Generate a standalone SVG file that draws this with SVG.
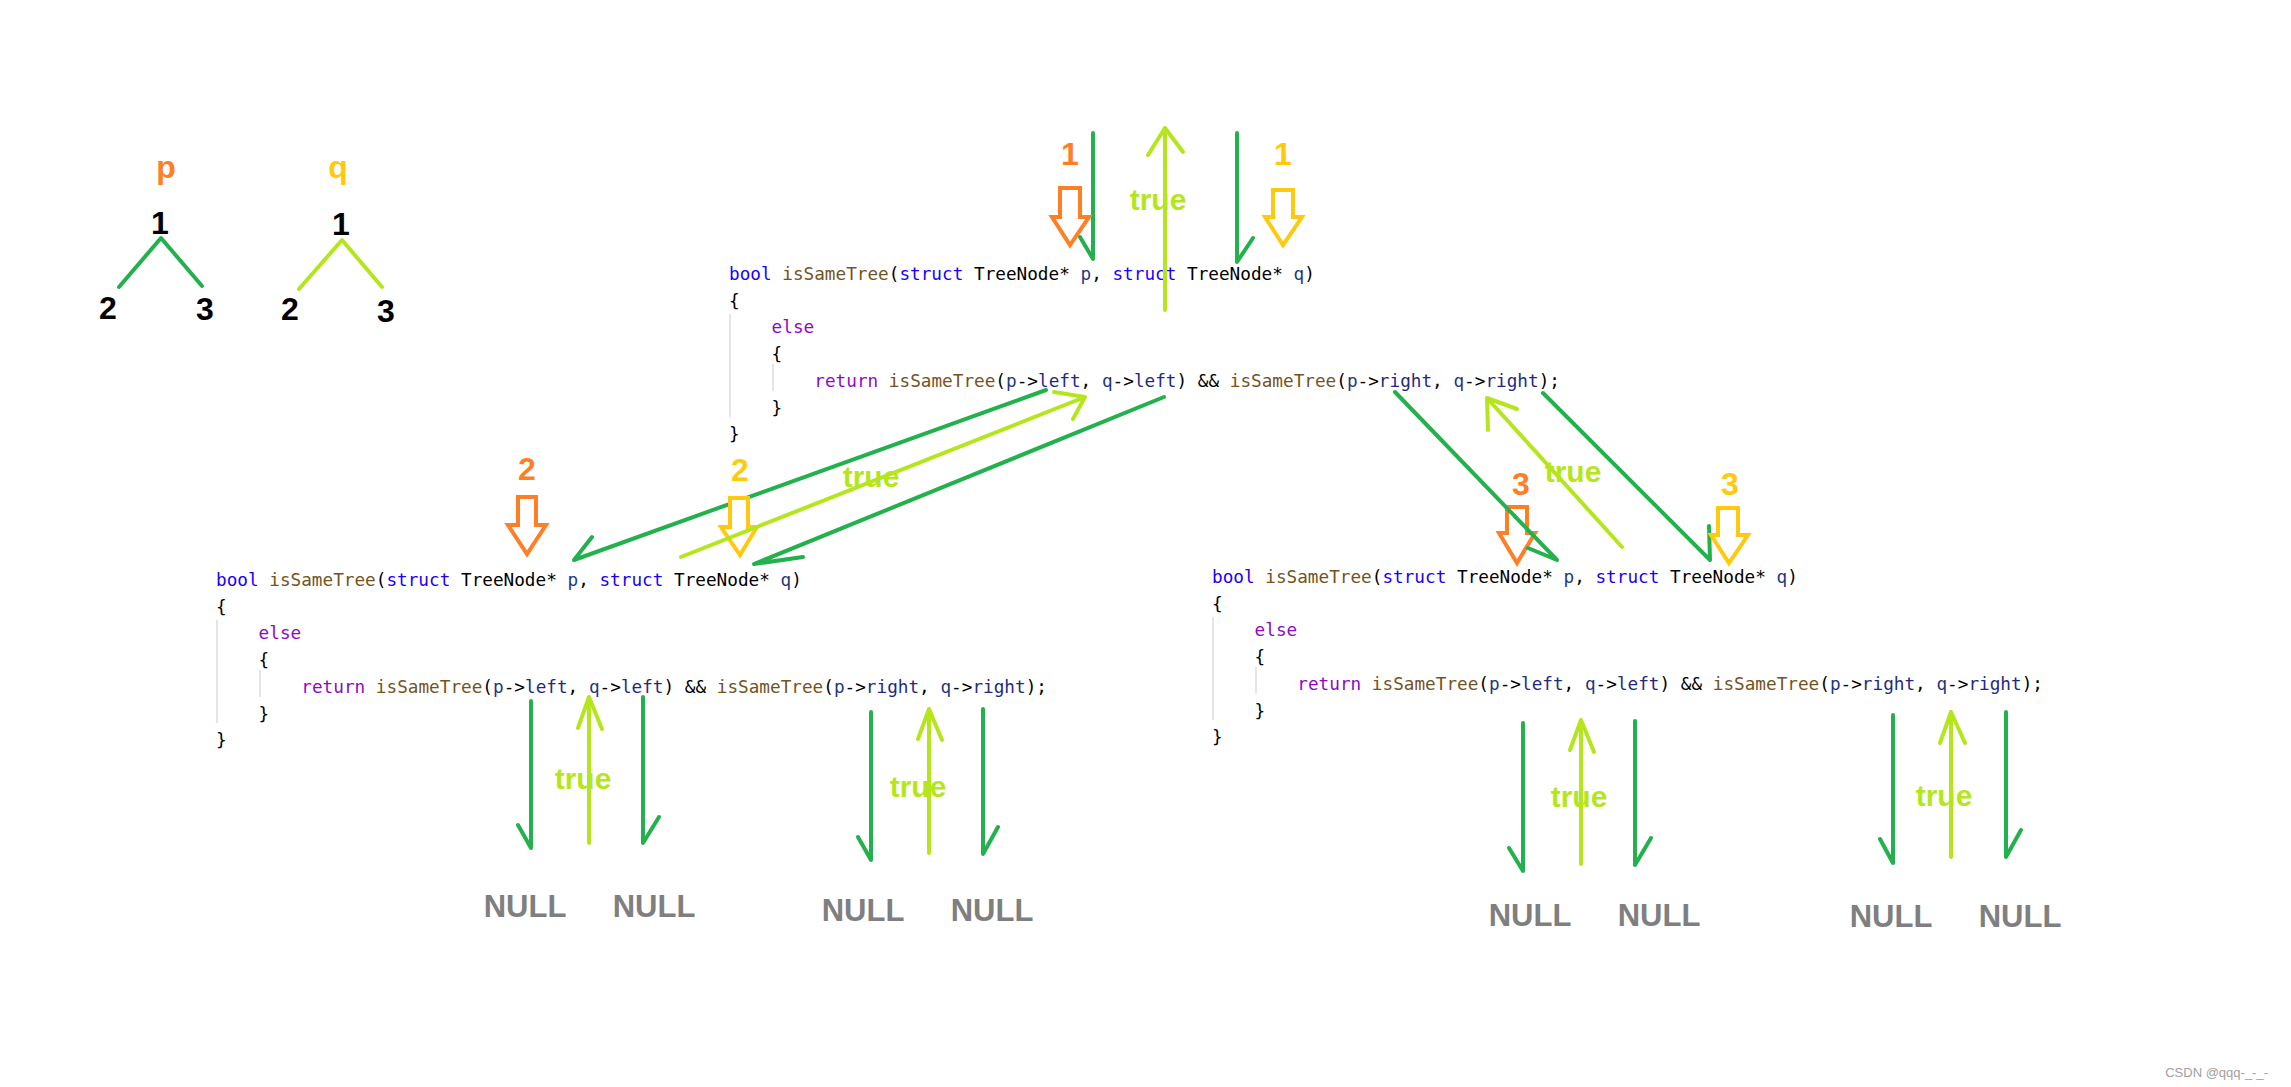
<svg xmlns="http://www.w3.org/2000/svg" width="2291" height="1087" viewBox="0 0 2291 1087">
<style>
.code{font-family:"DejaVu Sans Mono","Liberation Mono",monospace;font-size:17.7px;fill:#000;white-space:pre}
.kw{fill:#1a00ff}.fn{fill:#74531f}.pm{fill:#1f377f}.ctl{fill:#8f08c4}.mb{fill:#1f2a7f}
.guide{stroke:#d4d4d4;stroke-width:1.2}
.big{font-family:"Liberation Sans",Arial,sans-serif;font-weight:bold;font-size:32px;text-anchor:middle}
.blk{fill:#000}.org{fill:#ff7f27}.yel{fill:#ffc90e}
.tru{font-family:"Liberation Sans",Arial,sans-serif;font-weight:bold;font-size:30px;fill:#b5e61d;text-anchor:middle}
.null{font-family:"Liberation Sans",Arial,sans-serif;font-weight:bold;font-size:31px;fill:#7f7f7f;text-anchor:middle}
.call{fill:none;stroke:#22b14c;stroke-width:4;stroke-linecap:round;stroke-linejoin:round}
.ret{fill:none;stroke:#b5e61d;stroke-width:4;stroke-linecap:round;stroke-linejoin:round}
.hollowO{fill:#fff;stroke:#ff7f27;stroke-width:4;stroke-linejoin:miter}
.hollowY{fill:#fff;stroke:#ffc90e;stroke-width:4;stroke-linejoin:miter}
</style>
<rect width="2291" height="1087" fill="#fff"/>

<g id="tree-p">
<text class="big org" x="166" y="178" font-size="28">p</text>
<text class="big blk" x="160" y="234">1</text>
<text class="big blk" x="108" y="319">2</text>
<text class="big blk" x="205" y="320">3</text>
<path d="M119,287 L161,238 L202,286" fill="none" stroke="#22b14c" stroke-width="4" stroke-linecap="round" stroke-linejoin="round"/>
</g>
<g id="tree-q">
<text class="big yel" x="338" y="178" font-size="28">q</text>
<text class="big blk" x="341" y="235">1</text>
<text class="big blk" x="290" y="320">2</text>
<text class="big blk" x="386" y="322">3</text>
<path d="M299,289 L342,240 L382,287" fill="none" stroke="#b5e61d" stroke-width="4" stroke-linecap="round" stroke-linejoin="round"/>
</g>

<g id="call-1" transform="translate(729,280)">
<line class="guide" x1="1" y1="34" x2="1" y2="137"/>
<line class="guide" x1="44" y1="84" x2="44" y2="111"/>
<text class="code" x="0" y="0"><tspan class="kw">bool</tspan> <tspan class="fn">isSameTree</tspan>(<tspan class="kw">struct</tspan> TreeNode* <tspan class="pm">p</tspan>, <tspan class="kw">struct</tspan> TreeNode* <tspan class="pm">q</tspan>)</text>
<text class="code" x="0" y="26.7">{</text>
<text class="code" x="42.6" y="53.4"><tspan class="ctl">else</tspan></text>
<text class="code" x="42.6" y="80.1">{</text>
<text class="code" x="85.3" y="106.8"><tspan class="ctl">return</tspan> <tspan class="fn">isSameTree</tspan>(<tspan class="pm">p</tspan>-&gt;<tspan class="mb">left</tspan>, <tspan class="pm">q</tspan>-&gt;<tspan class="mb">left</tspan>) &amp;&amp; <tspan class="fn">isSameTree</tspan>(<tspan class="pm">p</tspan>-&gt;<tspan class="mb">right</tspan>, <tspan class="pm">q</tspan>-&gt;<tspan class="mb">right</tspan>);</text>
<text class="code" x="42.6" y="133.5">}</text>
<text class="code" x="0" y="160.2">}</text>
</g>

<g id="call-2" transform="translate(216,586)">
<line class="guide" x1="1" y1="34" x2="1" y2="137"/>
<line class="guide" x1="44" y1="84" x2="44" y2="111"/>
<text class="code" x="0" y="0"><tspan class="kw">bool</tspan> <tspan class="fn">isSameTree</tspan>(<tspan class="kw">struct</tspan> TreeNode* <tspan class="pm">p</tspan>, <tspan class="kw">struct</tspan> TreeNode* <tspan class="pm">q</tspan>)</text>
<text class="code" x="0" y="26.7">{</text>
<text class="code" x="42.6" y="53.4"><tspan class="ctl">else</tspan></text>
<text class="code" x="42.6" y="80.1">{</text>
<text class="code" x="85.3" y="106.8"><tspan class="ctl">return</tspan> <tspan class="fn">isSameTree</tspan>(<tspan class="pm">p</tspan>-&gt;<tspan class="mb">left</tspan>, <tspan class="pm">q</tspan>-&gt;<tspan class="mb">left</tspan>) &amp;&amp; <tspan class="fn">isSameTree</tspan>(<tspan class="pm">p</tspan>-&gt;<tspan class="mb">right</tspan>, <tspan class="pm">q</tspan>-&gt;<tspan class="mb">right</tspan>);</text>
<text class="code" x="42.6" y="133.5">}</text>
<text class="code" x="0" y="160.2">}</text>
</g>

<g id="call-3" transform="translate(1212,583)">
<line class="guide" x1="1" y1="34" x2="1" y2="137"/>
<line class="guide" x1="44" y1="84" x2="44" y2="111"/>
<text class="code" x="0" y="0"><tspan class="kw">bool</tspan> <tspan class="fn">isSameTree</tspan>(<tspan class="kw">struct</tspan> TreeNode* <tspan class="pm">p</tspan>, <tspan class="kw">struct</tspan> TreeNode* <tspan class="pm">q</tspan>)</text>
<text class="code" x="0" y="26.7">{</text>
<text class="code" x="42.6" y="53.4"><tspan class="ctl">else</tspan></text>
<text class="code" x="42.6" y="80.1">{</text>
<text class="code" x="85.3" y="106.8"><tspan class="ctl">return</tspan> <tspan class="fn">isSameTree</tspan>(<tspan class="pm">p</tspan>-&gt;<tspan class="mb">left</tspan>, <tspan class="pm">q</tspan>-&gt;<tspan class="mb">left</tspan>) &amp;&amp; <tspan class="fn">isSameTree</tspan>(<tspan class="pm">p</tspan>-&gt;<tspan class="mb">right</tspan>, <tspan class="pm">q</tspan>-&gt;<tspan class="mb">right</tspan>);</text>
<text class="code" x="42.6" y="133.5">}</text>
<text class="code" x="0" y="160.2">}</text>
</g>

<g id="arg-p-3">
<text class="big org" x="1521" y="495">3</text>
<polygon class="hollowO" points="1507,507 1527,507 1527,533 1535,533 1517,563 1499,533 1507,533"/>
</g>

<g id="connectors">
<g id="calls">
<path class="call" d="M1093,133 L1093,259 L1080,237"/>
<path class="call" d="M1237,133 L1237,262 L1253,238"/>
<path class="call" d="M1046,390 L574,560 L592,537"/>
<path class="call" d="M1164,397 L754,564 L803,557"/>
<path class="call" d="M1395,392 L1557,560 L1528,548"/>
<path class="call" d="M1543,393 L1710,560 L1709,526"/>
<path class="call" d="M531,701 L531,848 L518,825"/>
<path class="call" d="M643,697 L643,843 L659,817"/>
<path class="call" d="M871,712 L871,860 L858,837"/>
<path class="call" d="M983,709 L983,854 L998,827"/>
<path class="call" d="M1523,723 L1523,871 L1509,848"/>
<path class="call" d="M1635,721 L1635,865 L1651,838"/>
<path class="call" d="M1893,715 L1893,863 L1880,839"/>
<path class="call" d="M2006,712 L2006,857 L2021,830"/>
</g>
</g>

<g id="arg-p-1">
<text class="big org" x="1070" y="165">1</text>
<polygon class="hollowO" points="1060,188 1080,188 1080,217 1089,217 1070,245 1052,217 1060,217"/>
</g>
<g id="arg-q-1">
<text class="big yel" x="1283" y="165">1</text>
<polygon class="hollowY" points="1273,190 1293,190 1293,217 1302,217 1283,245 1265,217 1273,217"/>
</g>
<g id="arg-p-2">
<text class="big org" x="527" y="480">2</text>
<polygon class="hollowO" points="518,497 536,497 536,525 546,525 527,554 508,525 518,525"/>
</g>
<g id="arg-q-2">
<text class="big yel" x="740" y="481">2</text>
<polygon class="hollowY" points="730,498 748,498 748,527 757,527 740,555 721,527 730,527"/>
</g>
<g id="arg-q-3">
<text class="big yel" x="1730" y="495">3</text>
<polygon class="hollowY" points="1718,508 1738,508 1738,535 1748,535 1729,563 1711,535 1718,535"/>
</g>

<g id="connectors-return">
<path class="ret" d="M1165,310 L1165,128 M1148,155 L1165,128 L1183,152"/>
<path class="ret" d="M681,557 L1085,397 M1054,392 L1085,397 L1073,419"/>
<path class="ret" d="M1622,547 L1487,398 M1517,409 L1487,398 L1488,430"/>
<path class="ret" d="M589,843 L589,697 M578,728 L589,697 L602,729"/>
<path class="ret" d="M929,853 L929,709 M918,739 L929,709 L942,740"/>
<path class="ret" d="M1581,864 L1581,720 M1570,750 L1581,720 L1594,752"/>
<path class="ret" d="M1951,857 L1951,712 M1940,743 L1951,712 L1965,743"/>
</g>

<g id="labels-true">
<text class="tru" x="1158" y="210">true</text>
<text class="tru" x="871" y="487">true</text>
<text class="tru" x="1573" y="482">true</text>
<text class="tru" x="583" y="789">true</text>
<text class="tru" x="918" y="797">true</text>
<text class="tru" x="1579" y="807">true</text>
<text class="tru" x="1944" y="806">true</text>
</g>

<g id="null-1"><text class="null" x="525" y="917">NULL</text></g>
<g id="null-2"><text class="null" x="654" y="917">NULL</text></g>
<g id="null-3"><text class="null" x="863" y="921">NULL</text></g>
<g id="null-4"><text class="null" x="992" y="921">NULL</text></g>
<g id="null-5"><text class="null" x="1530" y="926">NULL</text></g>
<g id="null-6"><text class="null" x="1659" y="926">NULL</text></g>
<g id="null-7"><text class="null" x="1891" y="927">NULL</text></g>
<g id="null-8"><text class="null" x="2020" y="927">NULL</text></g>

<text x="2268" y="1077" font-family="Liberation Sans,Arial,sans-serif" font-size="13" fill="#a0a0a0" text-anchor="end">CSDN @qqq-_-_-</text>
</svg>
